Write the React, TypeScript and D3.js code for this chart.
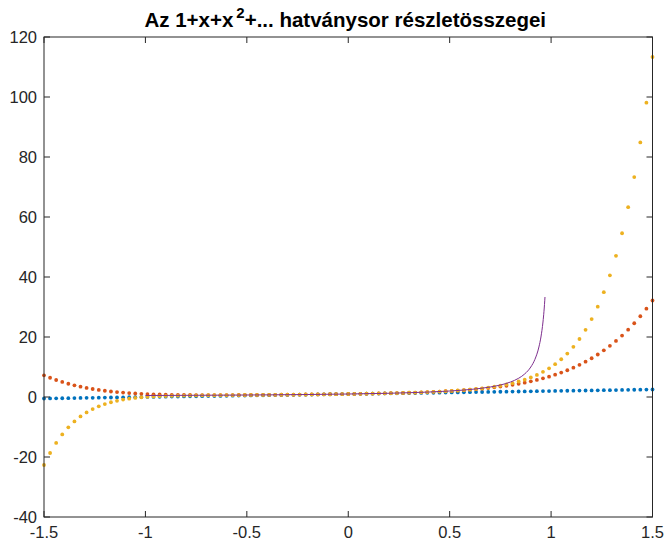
import React, { useEffect, useRef } from 'react'
import * as d3 from 'd3'

// x grid of the partial sums (-1.5 .. 1.5)
const xValues = [
  -1.5, -1.47, -1.44, -1.41, -1.38, -1.35, -1.32, -1.29, -1.26, -1.23,
  -1.2, -1.17, -1.14, -1.11, -1.08, -1.05, -1.02, -0.99, -0.96, -0.93,
  -0.9, -0.87, -0.84, -0.81, -0.78, -0.75, -0.72, -0.69, -0.66, -0.63,
  -0.6, -0.57, -0.54, -0.51, -0.48, -0.45, -0.42, -0.39, -0.36, -0.33,
  -0.3, -0.27, -0.24, -0.21, -0.18, -0.15, -0.12, -0.09, -0.06, -0.03,
  0,
  0.03, 0.06, 0.09, 0.12, 0.15, 0.18, 0.21, 0.24, 0.27, 0.3,
  0.33, 0.36, 0.39, 0.42, 0.45, 0.48, 0.51, 0.54, 0.57, 0.6,
  0.63, 0.66, 0.69, 0.72, 0.75, 0.78, 0.81, 0.84, 0.87, 0.9,
  0.93, 0.96, 0.99, 1.02, 1.05, 1.08, 1.11, 1.14, 1.17, 1.2,
  1.23, 1.26, 1.29, 1.32, 1.35, 1.38, 1.41, 1.44, 1.47, 1.5,
]

// 1 + x
const sum1 = [
  -0.5, -0.47, -0.44, -0.41, -0.38, -0.35, -0.32, -0.29, -0.26, -0.23,
  -0.2, -0.17, -0.14, -0.11, -0.08, -0.05, -0.02, 0.01, 0.04, 0.07,
  0.1, 0.13, 0.16, 0.19, 0.22, 0.25, 0.28, 0.31, 0.34, 0.37,
  0.4, 0.43, 0.46, 0.49, 0.52, 0.55, 0.58, 0.61, 0.64, 0.67,
  0.7, 0.73, 0.76, 0.79, 0.82, 0.85, 0.88, 0.91, 0.94, 0.97,
  1,
  1.03, 1.06, 1.09, 1.12, 1.15, 1.18, 1.21, 1.24, 1.27, 1.3,
  1.33, 1.36, 1.39, 1.42, 1.45, 1.48, 1.51, 1.54, 1.57, 1.6,
  1.63, 1.66, 1.69, 1.72, 1.75, 1.78, 1.81, 1.84, 1.87, 1.9,
  1.93, 1.96, 1.99, 2.02, 2.05, 2.08, 2.11, 2.14, 2.17, 2.2,
  2.23, 2.26, 2.29, 2.32, 2.35, 2.38, 2.41, 2.44, 2.47, 2.5,
]

// 1 + x + ... + x^6
const sum6 = [
  7.23, 6.41, 5.67, 5.01, 4.42, 3.9, 3.44, 3.03, 2.67, 2.36,
  2.08, 1.84, 1.64, 1.46, 1.3, 1.17, 1.06, 0.97, 0.89, 0.83,
  0.78, 0.74, 0.7, 0.68, 0.66, 0.65, 0.64, 0.64, 0.64, 0.64,
  0.64, 0.65, 0.66, 0.67, 0.68, 0.69, 0.71, 0.72, 0.74, 0.75,
  0.77, 0.79, 0.81, 0.83, 0.85, 0.87, 0.89, 0.92, 0.94, 0.97,
  1,
  1.03, 1.06, 1.1, 1.14, 1.18, 1.22, 1.27, 1.32, 1.37, 1.43,
  1.49, 1.56, 1.64, 1.72, 1.81, 1.91, 2.02, 2.14, 2.28, 2.43,
  2.6, 2.78, 2.99, 3.21, 3.47, 3.75, 4.06, 4.41, 4.79, 5.22,
  5.69, 6.21, 6.79, 7.43, 8.14, 8.92, 9.78, 10.73, 11.77, 12.92,
  14.17, 15.55, 17.05, 18.7, 20.49, 22.45, 24.59, 26.91, 29.43, 32.17,
]

// 1 + x + ... + x^9
const sum9 = [
  -22.67, -18.67, -15.3, -12.47, -10.1, -8.13, -6.49, -5.14, -4.02, -3.11,
  -2.36, -1.75, -1.27, -0.87, -0.56, -0.31, -0.11, 0.05, 0.17, 0.27,
  0.34, 0.4, 0.45, 0.49, 0.52, 0.54, 0.56, 0.58, 0.59, 0.61,
  0.62, 0.63, 0.65, 0.66, 0.68, 0.69, 0.7, 0.72, 0.74, 0.75,
  0.77, 0.79, 0.81, 0.83, 0.85, 0.87, 0.89, 0.92, 0.94, 0.97,
  1,
  1.03, 1.06, 1.1, 1.14, 1.18, 1.22, 1.27, 1.32, 1.37, 1.43,
  1.49, 1.56, 1.64, 1.72, 1.82, 1.92, 2.04, 2.17, 2.32, 2.48,
  2.68, 2.9, 3.15, 3.44, 3.77, 4.17, 4.62, 5.16, 5.78, 6.51,
  7.37, 8.38, 9.56, 10.95, 12.58, 14.49, 16.72, 19.34, 22.39, 25.96,
  30.11, 34.95, 40.56, 47.06, 54.59, 63.29, 73.32, 84.86, 98.12, 113.33,
]

// 1/(1-x), the limit curve
const limitX = [-1, -0.8, -0.6, -0.4, -0.2, 0, 0.2, 0.4, 0.5, 0.6, 0.7, 0.75, 0.8, 0.84, 0.87, 0.9, 0.92, 0.94, 0.95, 0.96, 0.965, 0.97]
const limitY = [0.5, 0.56, 0.63, 0.71, 0.83, 1, 1.25, 1.67, 2, 2.5, 3.33, 4, 5, 6.25, 7.69, 10, 12.5, 16.67, 20, 25, 28.57, 33.33]

const xTicks = [-1.5, -1, -0.5, 0, 0.5, 1, 1.5]
const yTicks = [-40, -20, 0, 20, 40, 60, 80, 100, 120]

const dotSeries = [
  { values: sum1, color: '#0072BD' },
  { values: sum6, color: '#D95319' },
  { values: sum9, color: '#EDB120' },
]

function App() {
  const ref = useRef<SVGSVGElement>(null)

  useEffect(() => {
    const width = 668, height = 546
    const margin = { left: 44, right: 15.5, top: 37, bottom: 29 }
    const axisColor = '#262626'
    const font = 'Liberation Sans, Arial, sans-serif'

    const svg = d3.select(ref.current)
    svg.selectAll('*').remove()

    const x = d3.scaleLinear().domain([-1.5, 1.5]).range([margin.left, width - margin.right])
    const y = d3.scaleLinear().domain([-40, 120]).range([height - margin.bottom, margin.top])

    const plot = svg.append('g')

    // partial sums as dots
    dotSeries.forEach(s => {
      plot.append('g')
        .selectAll('circle')
        .data(xValues.map((v, i) => [v, s.values[i]]))
        .join('circle')
        .attr('cx', d => x(d[0]))
        .attr('cy', d => y(d[1]))
        .attr('r', 1.9)
        .attr('fill', s.color)
    })

    const line = d3.line<number>()
      .x(d => x(d))
      .y((d, i) => y(limitY[i]))
      .curve(d3.curveMonotoneX)

    plot.append('path')
      .datum(limitX)
      .attr('fill', 'none')
      .attr('stroke', '#7E2F8E')
      .attr('stroke-width', 1)
      .attr('d', line)

    // box and inward ticks on all sides
    const [x0, x1] = x.range()
    const [y0, y1] = y.range()
    const axes = svg.append('g').attr('stroke', axisColor).attr('stroke-width', 1)
    axes.append('rect')
      .attr('x', x0).attr('y', y1)
      .attr('width', x1 - x0).attr('height', y0 - y1)
      .attr('fill', 'none')
    const tickLen = 6
    xTicks.forEach(t => {
      axes.append('line').attr('x1', x(t)).attr('x2', x(t)).attr('y1', y0).attr('y2', y0 - tickLen)
      axes.append('line').attr('x1', x(t)).attr('x2', x(t)).attr('y1', y1).attr('y2', y1 + tickLen)
    })
    yTicks.forEach(t => {
      axes.append('line').attr('x1', x0).attr('x2', x0 + tickLen).attr('y1', y(t)).attr('y2', y(t))
      axes.append('line').attr('x1', x1).attr('x2', x1 - tickLen).attr('y1', y(t)).attr('y2', y(t))
    })

    const labels = svg.append('g')
      .attr('font-family', font)
      .attr('font-size', 16.5)
      .attr('fill', axisColor)

    labels.selectAll('.xl')
      .data(xTicks)
      .join('text')
      .attr('class', 'xl')
      .attr('x', d => x(d))
      .attr('y', y0 + 21)
      .attr('text-anchor', 'middle')
      .text(d => String(d))

    labels.selectAll('.yl')
      .data(yTicks)
      .join('text')
      .attr('class', 'yl')
      .attr('x', x0 - 7)
      .attr('y', d => y(d) + 6)
      .attr('text-anchor', 'end')
      .text(d => String(d))

    // title with superscript
    const title = svg.append('text')
      .attr('x', (x0 + x1) / 2 - 3)
      .attr('y', 27)
      .attr('text-anchor', 'middle')
      .attr('font-family', font)
      .attr('font-weight', 'bold')
      .attr('font-size', 20.5)
      .attr('fill', '#000')
    title.append('tspan').text('Az 1+x+x')
    title.append('tspan').attr('dy', -9).attr('dx', 3).attr('font-size', 15).text('2')
    title.append('tspan').attr('dy', 9).text('+... hatványsor részletösszegei')
  }, [])

  return (
    <svg
      ref={ref}
      width={668}
      height={546}
      style={{ position: 'absolute', left: 0, top: 0, background: '#fff' }}
    />
  )
}

export default App
